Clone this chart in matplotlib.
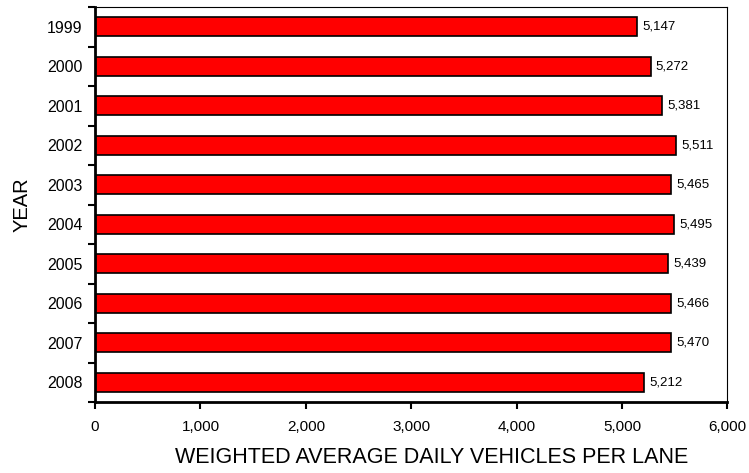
import matplotlib.pyplot as plt
import numpy as np

plt.rcParams['font.family'] = ['Liberation Sans', 'DejaVu Sans']

years = ['1999', '2000', '2001', '2002', '2003', '2004', '2005', '2006', '2007', '2008']
vehicles = [5147, 5272, 5381, 5511, 5465, 5495, 5439, 5466, 5470, 5212]

fig = plt.figure(figsize=(7.49, 4.73), dpi=100)
ax = fig.add_axes([0.127, 0.150, 0.844, 0.835])

pos = np.arange(len(years))
ax.barh(pos, vehicles, height=0.48, color='#ff0000', edgecolor='black', linewidth=1.2)
for p, v in zip(pos, vehicles):
    ax.text(v + 50, p, f'{v:,}', va='center', ha='left', fontsize=9.5)

ax.set_ylim(len(years) - 0.5, -0.5)
ax.set_xlim(0, 6000)
ax.set_xticks(range(0, 6001, 1000))
ax.set_xticklabels([f'{x:,}' for x in range(0, 6001, 1000)], fontsize=11)
ax.set_yticks(pos)
ax.set_yticklabels(years, fontsize=11.5)
ax.tick_params(axis='y', length=0, pad=9)
ax.set_yticks(np.arange(-0.5, len(years)), minor=True)
ax.tick_params(axis='y', which='minor', length=5, width=1.5, direction='out')
ax.tick_params(axis='x', length=5, width=1.5, direction='out', pad=8)

for s in ['left', 'bottom']:
    ax.spines[s].set_linewidth(2)
for s in ['top', 'right']:
    ax.spines[s].set_linewidth(0.8)

ax.set_xlabel('WEIGHTED AVERAGE DAILY VEHICLES PER LANE', fontsize=15.5)
ax.xaxis.set_label_coords(0.532, -0.114)
ax.set_ylabel('YEAR', fontsize=14.5)
ax.yaxis.set_label_coords(-0.101, 0.5)

fig.savefig('out.png', dpi=100)
